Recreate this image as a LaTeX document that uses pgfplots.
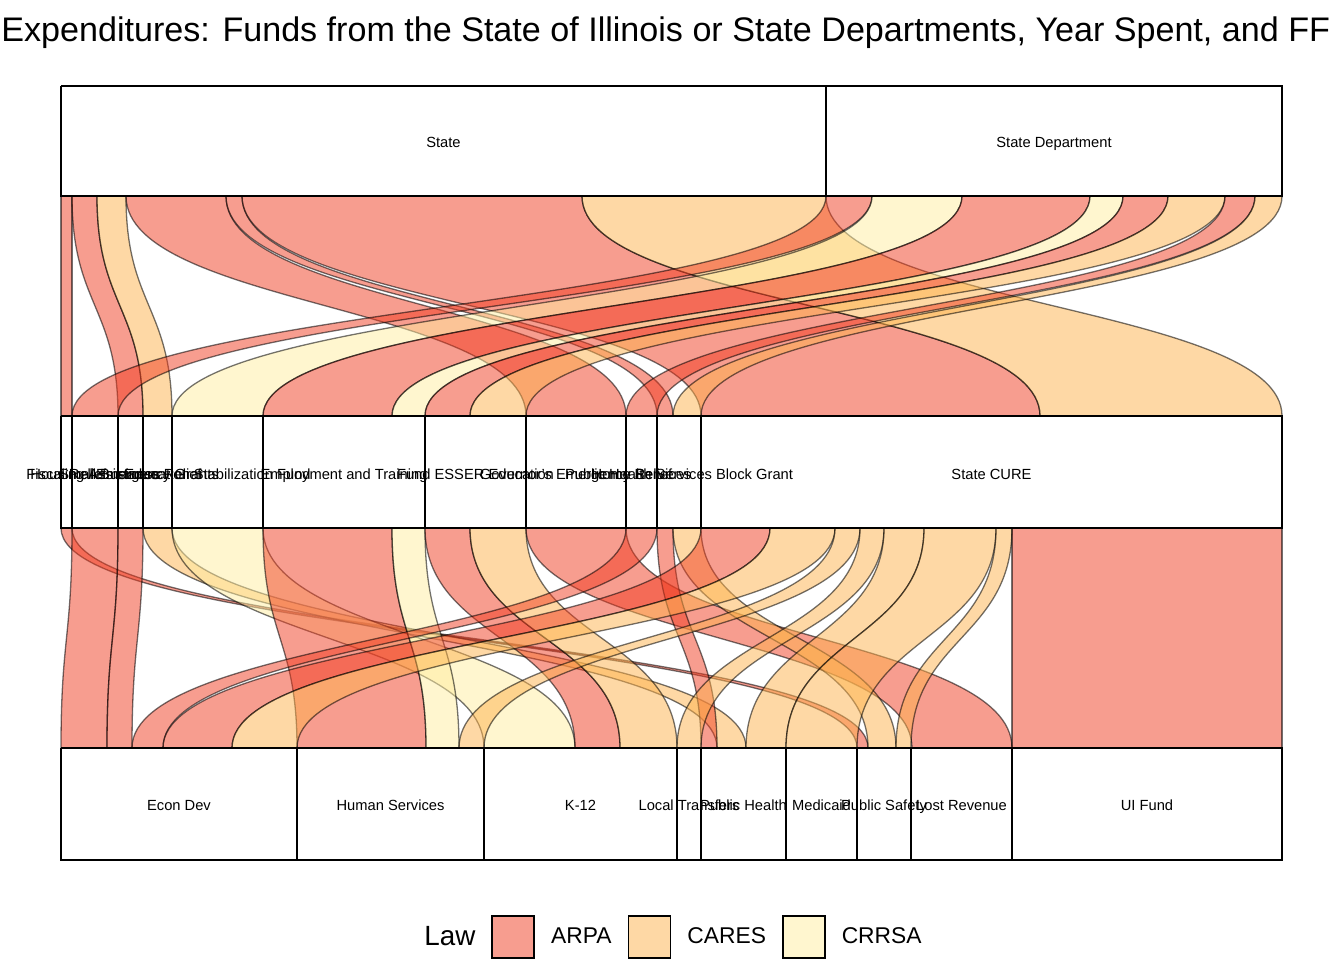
\documentclass[border=0pt]{standalone}
\usepackage{fontspec}
\setmainfont{Liberation Sans}
\usepackage{pgfplots}
\pgfplotsset{compat=1.18}
\usepackage{pgfplotstable}
\definecolor{arpa}{HTML}{F03B20}
\definecolor{cares}{HTML}{FEB24C}
\definecolor{crrsa}{HTML}{FFEDA0}

% flows between State/State Department and Fund (left/right positions in cumulative units)
\pgfplotstableread{
xa xb xc xd law
61 72 61 72 arpa
72 97 118 143 arpa
97 126 143 172 cares
126 226 526 626 arpa
226 242 657 673 arpa
242 582 701 1040 arpa
582 826 1040 1282 cares
826 872 72 118 arpa
872 962 172 263 crrsa
962 1090 263 392 arpa
1090 1123 392 425 crrsa
1123 1168 425 470 arpa
1168 1225 470 526 cares
1225 1255 626 657 arpa
1255 1282 673 701 cares
}\topflows

% flows between Fund and spending category
\pgfplotstableread{
xa xb xc xd law
61 72 857 868 arpa
72 118 61 107 arpa
118 143 107 132 arpa
143 172 717 746 cares
172 263 484 575 crrsa
263 392 297 426 arpa
392 425 426 459 crrsa
425 470 575 620 arpa
470 526 620 677 cares
526 626 912 1012 arpa
626 657 132 163 arpa
657 673 701 717 arpa
673 701 868 896 cares
701 770 163 232 arpa
770 835 232 297 cares
835 860 459 484 cares
860 884 677 701 cares
884 924 746 786 cares
924 996 786 857 cares
996 1012 896 911 cares
1012 1282 1012 1282 arpa
}\botflows

\newcommand\ribbon[7]{%
  \fill[#7, fill opacity=0.5, draw=black, draw opacity=0.55, line width=0.65pt]
    (axis cs:#1,#5) .. controls (axis cs:#1,{(#5+#6)/2}) and (axis cs:#3,{(#5+#6)/2}) .. (axis cs:#3,#6)
    -- (axis cs:#4,#6) .. controls (axis cs:#4,{(#5+#6)/2}) and (axis cs:#2,{(#5+#6)/2}) .. (axis cs:#2,#5) -- cycle;}

\newcommand\drawflows[3]{%
  \pgfplotstablegetrowsof{#1}\pgfmathtruncatemacro\N{\pgfplotsretval-1}%
  \pgfplotsforeachungrouped \i in {0,...,\N}{%
    \pgfplotstablegetelem{\i}{xa}\of#1\let\XA\pgfplotsretval
    \pgfplotstablegetelem{\i}{xb}\of#1\let\XB\pgfplotsretval
    \pgfplotstablegetelem{\i}{xc}\of#1\let\XC\pgfplotsretval
    \pgfplotstablegetelem{\i}{xd}\of#1\let\XD\pgfplotsretval
    \pgfplotstablegetelem{\i}{law}\of#1\let\LAW\pgfplotsretval
    \edef\tmp{\noexpand\ribbon{\XA}{\XB}{\XC}{\XD}{#2}{#3}{\LAW}}\tmp}}

\newcommand\stratum[4]{\addplot[draw=black, fill=white, line width=0.9pt, forget plot]
  coordinates {(#1,#3) (#2,#3) (#2,#4) (#1,#4) (#1,#3)};}

\newcommand\lab{\fontsize{7.35}{8.8}\selectfont}

\begin{document}
\begin{tikzpicture}
\begin{axis}[name=ax,
  scale only axis, width=672pt, height=480pt,
  xmin=0, xmax=1344, ymin=-960, ymax=0,
  hide axis, clip=false,
  legend style={at={(0.4948,0.024)}, anchor=center, draw=none, fill=none,
    legend columns=-1, column sep=8pt, font=\fontsize{11.4}{13}\selectfont,
    nodes={inner sep=0pt}},
  legend cell align=left,
]
\drawflows{\topflows}{-196}{-416}
\drawflows{\botflows}{-528}{-748}

% axis 1
\stratum{61}{826}{-86}{-196}
\stratum{826}{1282}{-86}{-196}
% axis 2
\stratum{61}{72}{-416}{-528}
\stratum{72}{118}{-416}{-528}
\stratum{118}{143}{-416}{-528}
\stratum{143}{172}{-416}{-528}
\stratum{172}{263}{-416}{-528}
\stratum{263}{425}{-416}{-528}
\stratum{425}{526}{-416}{-528}
\stratum{526}{626}{-416}{-528}
\stratum{626}{657}{-416}{-528}
\stratum{657}{701}{-416}{-528}
\stratum{701}{1282}{-416}{-528}
% axis 3
\stratum{61}{297}{-748}{-860}
\stratum{297}{484}{-748}{-860}
\stratum{484}{677}{-748}{-860}
\stratum{677}{701}{-748}{-860}
\stratum{701}{786}{-748}{-860}
\stratum{786}{857}{-748}{-860}
\stratum{857}{911}{-748}{-860}
\stratum{911}{1012}{-748}{-860}
\stratum{1012}{1282}{-748}{-860}

\node[anchor=base, font=\lab] at (axis cs:443.5,-147.5) {State};
\node[anchor=base, font=\lab] at (axis cs:1054,-147.5) {State Department};

\node[anchor=base, font=\lab] at (axis cs:66.5,-479.5) {Fiscal Relief};
\node[anchor=base, font=\lab] at (axis cs:95,-479.5) {Housing Assistance};
\node[anchor=base, font=\lab] at (axis cs:130.5,-479.5) {Small Business Relief};
\node[anchor=base, font=\lab] at (axis cs:157.5,-479.5) {Emergency Grants};
\node[anchor=base, font=\lab] at (axis cs:217.5,-479.5) {Education Stabilization Fund};
\node[anchor=base, font=\lab] at (axis cs:344,-479.5) {Employment and Training};
\node[anchor=base, font=\lab] at (axis cs:475.5,-479.5) {Fund ESSER Education};
\node[anchor=base, font=\lab] at (axis cs:576,-479.5) {Governor's Emergency Relief};
\node[anchor=base, font=\lab] at (axis cs:641.5,-479.5) {Home Services};
\node[anchor=base, font=\lab] at (axis cs:679,-479.5) {Public Health Services Block Grant};
\node[anchor=base, font=\lab] at (axis cs:991.5,-479.5) {State CURE};

\node[anchor=base, font=\lab] at (axis cs:179,-810.5) {Econ Dev};
\node[anchor=base, font=\lab] at (axis cs:390.5,-810.5) {Human Services};
\node[anchor=base, font=\lab] at (axis cs:580.5,-810.5) {K-12};
\node[anchor=base, font=\lab] at (axis cs:689,-810.5) {Local Transfers};
\node[anchor=base, font=\lab] at (axis cs:743.5,-810.5) {Public Health};
\node[anchor=base, font=\lab] at (axis cs:821.5,-810.5) {Medicaid};
\node[anchor=base, font=\lab] at (axis cs:884,-810.5) {Public Safety};
\node[anchor=base, font=\lab] at (axis cs:961.5,-810.5) {Lost Revenue};
\node[anchor=base, font=\lab] at (axis cs:1147,-810.5) {UI Fund};

\node[anchor=base west, inner sep=0pt, font=\fontsize{17.05}{20}\selectfont] at (axis cs:1,-42)
  {Expenditures: Funds from the State of Illinois or State Departments, Year Spent, and FF};

\addlegendimage{legend image code/.code={}}
\addlegendentry{\fontsize{13.9}{16}\selectfont Law}
\addlegendimage{legend image code/.code={\draw[fill=arpa, fill opacity=0.5, draw=black, line width=0.9pt] (0pt,-10.5pt) rectangle (21pt,10.5pt);}}
\addlegendentry{ARPA}
\addlegendimage{legend image code/.code={\draw[fill=cares, fill opacity=0.5, draw=black, line width=0.9pt] (0pt,-10.5pt) rectangle (21pt,10.5pt);}}
\addlegendentry{CARES}
\addlegendimage{legend image code/.code={\draw[fill=crrsa, fill opacity=0.5, draw=black, line width=0.9pt] (0pt,-10.5pt) rectangle (21pt,10.5pt);}}
\addlegendentry{CRRSA}
\end{axis}
\pgfresetboundingbox
\path[use as bounding box] (ax.south west) rectangle (ax.north east);
\end{tikzpicture}
\end{document}
